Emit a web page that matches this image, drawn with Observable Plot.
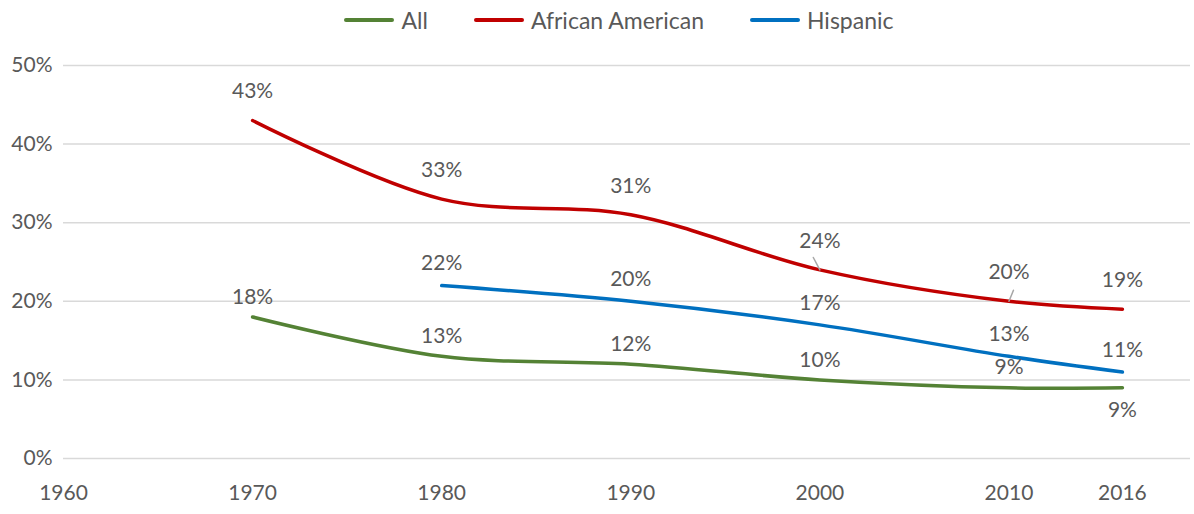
<!DOCTYPE html>
<html><head><meta charset="utf-8">
<script src="https://cdn.jsdelivr.net/npm/d3@7"></script>
<script src="https://cdn.jsdelivr.net/npm/@observablehq/plot@0.6"></script>
<style>
body{margin:0;background:#fff;font-family:Lato,"Open Sans",sans-serif;}
#legend{height:40px;display:flex;align-items:center;justify-content:center;padding-left:44px;box-sizing:border-box;color:#595959;font-size:23px;}
.item{display:flex;align-items:center;margin:0 23px;}
.sw{width:50px;height:4px;border-radius:2px;margin-right:7px;}
#chart svg{display:block;}
</style></head><body><div id="legend"></div><div id="chart"></div>
<script>
const years = [1970, 1980, 1990, 2000, 2010, 2016];
const seriesNames = ["All", "African American", "Hispanic"];
const allValues = [18, 13, 12, 10, 9, 9];
const africanAmericanValues = [43, 33, 31, 24, 20, 19];
const hispanicValues = [null, 22, 20, 17, 13, 11];
const seriesColors = ["#548235", "#C00000", "#0070C0"];
const xTicks = [1960, 1970, 1980, 1990, 2000, 2010, 2016];
const yTicks = [0, 10, 20, 30, 40, 50];

const valueLists = [allValues, africanAmericanValues, hispanicValues];
const rows = [];
seriesNames.forEach((s, i) => years.forEach((y, j) => {
  const v = valueLists[i][j];
  if (v != null) rows.push({series: s, year: y, value: v});
}));

const legend = document.getElementById("legend");
seriesNames.forEach((s, i) => {
  const it = document.createElement("div"); it.className = "item";
  const sw = document.createElement("div"); sw.className = "sw"; sw.style.background = seriesColors[i];
  const tx = document.createElement("span"); tx.textContent = s;
  it.append(sw, tx); legend.append(it);
});

const leaderShape = {draw(ctx, l) { ctx.moveTo(0, 0); ctx.lineTo(0, -l); }};
const font = 21;

const chart = Plot.plot({
  width: 1194, height: 474,
  marginLeft: 63, marginRight: 4, marginTop: 25, marginBottom: 56,
  style: {fontFamily: "Lato, 'Open Sans', sans-serif", fontSize: font + "px", color: "#595959", background: "#fff"},
  x: {domain: [1960, 2019.6], label: null},
  y: {domain: [0, 50], label: null},
  color: {domain: seriesNames, range: seriesColors},
  marks: [
    Plot.gridY(yTicks, {stroke: "#d9d9d9", strokeOpacity: 1, strokeWidth: 1.5}),
    Plot.axisX({ticks: xTicks, tickFormat: d => String(d), tickSize: 0, tickPadding: 27, fill: "#595959"}),
    Plot.axisY({ticks: yTicks, tickFormat: d => d + "%", tickSize: 0, tickPadding: 11, fill: "#595959"}),
    Plot.line(rows, {x: "year", y: "value", z: "series", stroke: "series", strokeWidth: 3.5, curve: "catmull-rom"}),
    Plot.vector(rows.filter(d => d.series === "African American" && d.year === 2000), {x: "year", y: "value", length: 14, rotate: -28, anchor: "start", shape: leaderShape, stroke: "#a6a6a6", strokeWidth: 1.5}),
    Plot.vector(rows.filter(d => d.series === "African American" && d.year === 2010), {x: "year", y: "value", length: 12, rotate: 22, anchor: "start", shape: leaderShape, stroke: "#a6a6a6", strokeWidth: 1.5}),
    ...seriesNames.map(s => Plot.text(rows.filter(d => d.series === s && !(s === "All" && d.year === 2016)), {
      x: "year", y: "value", text: d => d.value + "%", fill: "#595959", fontSize: font,
      dy: s === "All" ? -20 : s === "African American" ? -29 : -22
    })),
    Plot.text(rows.filter(d => d.series === "All" && d.year === 2016), {x: "year", y: "value", text: d => d.value + "%", fill: "#595959", fontSize: font, dy: 23})
  ]
});
document.getElementById("chart").append(chart);
</script></body></html>
